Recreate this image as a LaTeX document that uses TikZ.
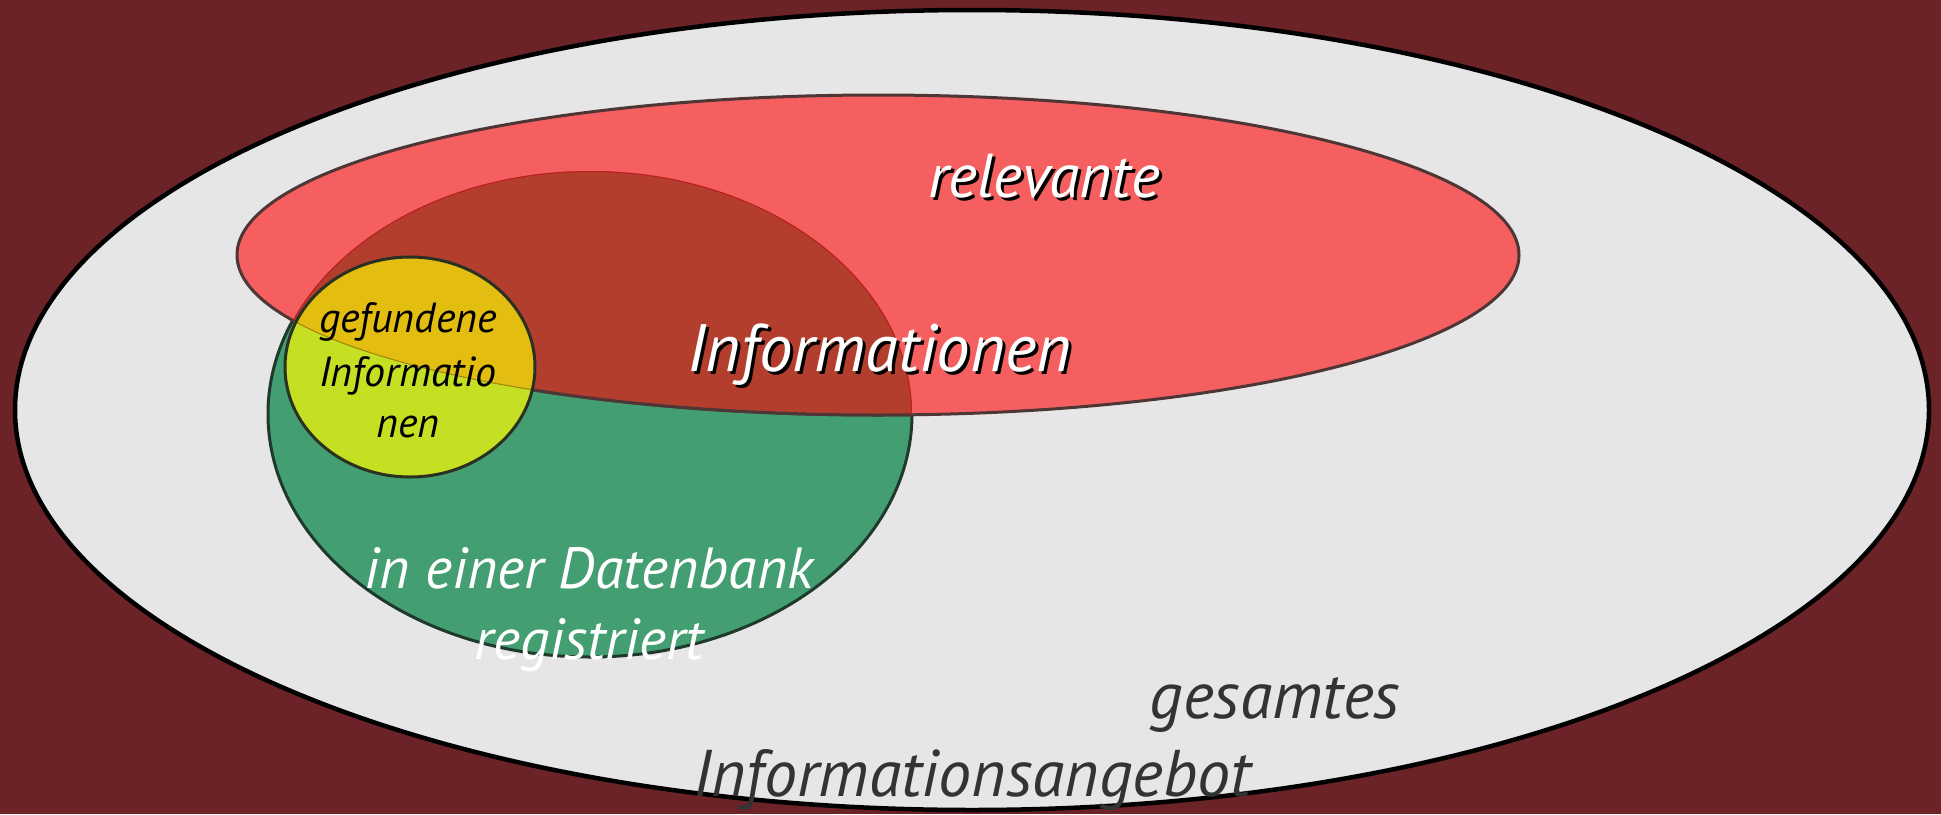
\documentclass[tikz,border=0pt]{standalone}
\usepackage{fontspec}
\setmainfont{PT Sans}
\definecolor{bgred}{HTML}{6B2328}
\definecolor{allgray}{HTML}{E6E6E6}
\definecolor{relred}{HTML}{F55F5F}
\definecolor{reledge}{HTML}{4E3636}
\definecolor{dbgreen}{HTML}{439E72}
\definecolor{dbedge}{HTML}{1F3A2C}
\definecolor{bothred}{HTML}{B33E2E}
\definecolor{bothedge}{HTML}{BC1E1E}
\definecolor{foundlime}{HTML}{C5DF23}
\definecolor{foundgold}{HTML}{E3BD10}
\definecolor{foundedge}{HTML}{2A3120}
\definecolor{graytext}{HTML}{333333}

\begin{document}
\begin{tikzpicture}[x=1pt,y=-1pt,
  txt/.style={font=\itshape\fontsize{#1}{#1}\selectfont, inner sep=0pt, anchor=base},
  wtxt/.style={txt=#1, text=white},
  shd/.style={txt=#1, text=black},
  blob/.style={line width=3pt}]
\fill[bgred] (0,0) rectangle (1941,814);
\useasboundingbox (0,0) rectangle (1941,814);
% gesamtes Angebot
\filldraw[fill=allgray, draw=black, line width=4.5pt] (972,410) ellipse [x radius=957, y radius=400];
% Datenbank und relevante
\filldraw[fill=dbgreen, draw=dbedge, blob] (590,414) ellipse [x radius=322, y radius=243];
\filldraw[fill=relred, draw=reledge, blob] (878,255) ellipse [x radius=641, y radius=160];
\begin{scope}
  \clip (590,414) ellipse [x radius=322, y radius=243];
  \fill[bothred] (878,255) ellipse [x radius=641, y radius=160];
  \draw[reledge, blob] (878,255) ellipse [x radius=641, y radius=160];
  \begin{scope}
    \clip (878,255) ellipse [x radius=641, y radius=160];
    \draw[bothedge, line width=2pt] (590,414) ellipse [x radius=322, y radius=243];
  \end{scope}
\end{scope}
% gefundene
\fill[foundlime] (410,367) ellipse [x radius=125, y radius=110];
\begin{scope}
  \clip (410,367) ellipse [x radius=125, y radius=110];
  \fill[foundgold] (878,255) ellipse [x radius=641, y radius=160];
  \draw[foundgold!70!black, line width=1pt] (878,255) ellipse [x radius=641, y radius=160];
\end{scope}
\draw[foundedge, blob] (410,367) ellipse [x radius=125, y radius=110];

\node[shd=62] (relevante-s) at (1047,200) {relevante};
\node[wtxt=62] (relevante) at (1044,197) {relevante};
\node[shd=67] (informationen-s) at (882,374) {Informationen};
\node[wtxt=67] (informationen) at (879,371) {Informationen};
\node[txt=42] (gefunden1) at (408,332) {gefundene};
\node[txt=42] (gefunden2) at (408,386) {Informatio};
\node[txt=42] (gefunden3) at (408,437) {nen};
\node[wtxt=58] (datenbank1) at (589,588) {in einer Datenbank};
\node[wtxt=58] (datenbank2) at (589,659) {registriert};
\node[txt=66, text=graytext] (gesamt1) at (1275,718) {gesamtes};
\node[txt=66, text=graytext] (gesamt2) at (972,796) {Informationsangebot};
\end{tikzpicture}
\end{document}
